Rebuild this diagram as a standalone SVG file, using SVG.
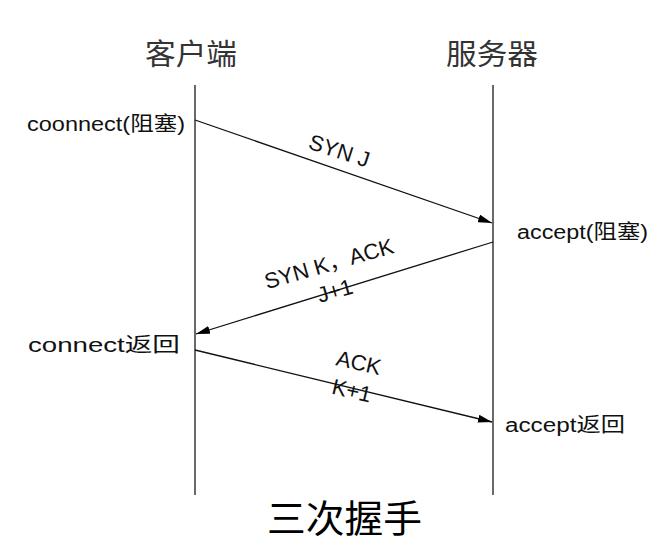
<svg xmlns="http://www.w3.org/2000/svg" width="669" height="554" viewBox="0 0 669 554">
<style>
.lbl{font-family:"Liberation Sans","Noto Sans CJK SC",sans-serif;font-size:20px;fill:#111}
.hd{font-family:"Noto Sans CJK SC",sans-serif;font-size:29px;fill:#333}
.ttl{font-family:"Noto Sans CJK SC",sans-serif;font-size:38px;fill:#000}
.life{stroke:#444;stroke-width:1.6;fill:none}
.msg{stroke:#111;stroke-width:1.3;fill:none;marker-end:url(#ah)}
.ml{font-family:"Liberation Sans","Noto Sans CJK SC",sans-serif;font-size:22px;fill:#111;text-anchor:middle}
</style>
<defs>
<marker id="ah" viewBox="0 0 14 8" refX="14" refY="4" markerWidth="14" markerHeight="8" markerUnits="userSpaceOnUse" orient="auto">
<path d="M0,0 L14,4 L0,8 Z" fill="#000"/>
</marker>
</defs>
<g id="client">
<text class="hd" x="145" y="65" textLength="92" lengthAdjust="spacingAndGlyphs">客户端</text>
<line class="life" x1="195" y1="85" x2="195" y2="495"/>
</g>
<g id="server">
<text class="hd" x="446" y="65" textLength="92" lengthAdjust="spacingAndGlyphs">服务器</text>
<line class="life" x1="493" y1="85" x2="493" y2="495"/>
</g>
<g id="labels">
<text class="lbl" x="27" y="131" textLength="158" lengthAdjust="spacingAndGlyphs">coonnect(阻塞)</text>
<text class="lbl" x="517" y="239" textLength="131" lengthAdjust="spacingAndGlyphs">accept(阻塞)</text>
<text class="lbl" x="28" y="352" textLength="152" lengthAdjust="spacingAndGlyphs">connect返回</text>
<text class="lbl" x="505" y="432" textLength="120" lengthAdjust="spacingAndGlyphs">accept返回</text>
</g>
<g id="connectors">
<line class="msg" x1="195" y1="120" x2="492" y2="223"/>
<line class="msg" x1="493" y1="242" x2="196" y2="334"/>
<line class="msg" x1="195" y1="350" x2="492" y2="422"/>
<text class="ml" transform="translate(337,158) rotate(18)">SYN J</text>
<text class="ml" transform="translate(331,271) rotate(-16)">SYN K，ACK</text>
<text class="ml" transform="translate(337,298) rotate(-16)">J+1</text>
<text class="ml" transform="translate(357,370) rotate(13)">ACK</text>
<text class="ml" transform="translate(350,398) rotate(13)">K+1</text>
</g>
<g id="title">
<text class="ttl" x="267" y="532" textLength="155" lengthAdjust="spacingAndGlyphs">三次握手</text>
</g>
</svg>
